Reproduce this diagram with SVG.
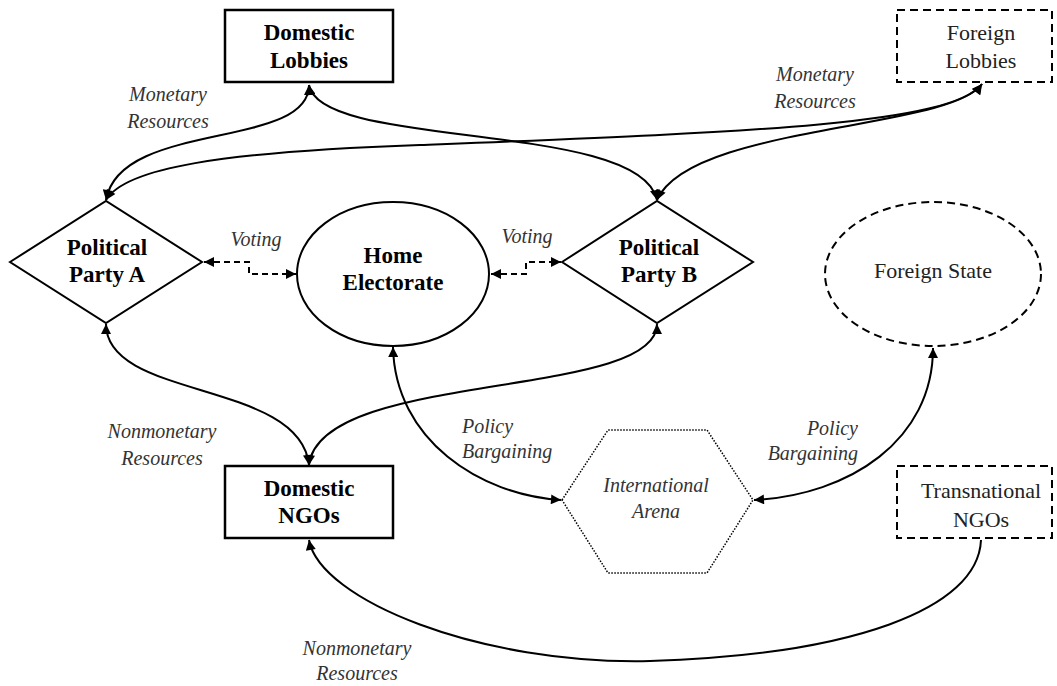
<svg xmlns="http://www.w3.org/2000/svg" width="1057" height="686" viewBox="0 0 1057 686">
<style>
.bg{fill:#fff}
.solid{fill:#fff;stroke:#000;stroke-width:2.5}
.dia{fill:#fff;stroke:#000;stroke-width:2}
.dash{fill:#fff;stroke:#000;stroke-width:2;stroke-dasharray:8 5}
.dot{fill:#fff;stroke:#000;stroke-width:1.5;stroke-dasharray:1.5 1.5}
.b{font-weight:bold;font-size:23px;fill:#000;text-anchor:middle}
.r{font-size:22px;fill:#222;text-anchor:middle}
.i{font-style:italic;font-size:20px;fill:#333;text-anchor:middle}
.c{fill:none;stroke:#000;stroke-width:2}
.v{fill:none;stroke:#000;stroke-width:2;stroke-dasharray:6 4}
</style>
<defs>
<marker id="ah" viewBox="0 0 10 10" refX="10" refY="5" markerWidth="12" markerHeight="10" markerUnits="userSpaceOnUse" orient="auto-start-reverse"><path d="M0,0 L10,5 L0,10 z" fill="#000"/></marker>
</defs>
<rect class="bg" x="0" y="0" width="1057" height="686"/>

<g id="connectors">
<path class="c" d="M309,85 C309,150 120,120 106,200" marker-start="url(#ah)" marker-end="url(#ah)"/>
<path class="c" d="M309,85 C320,150 640,120 657,200" marker-start="url(#ah)" marker-end="url(#ah)"/>
<path class="c" d="M982,84 C950,125 750,132 420,145 C220,152 125,168 106,200" marker-start="url(#ah)" marker-end="url(#ah)"/>
<path class="c" d="M982,84 C950,130 690,125 657,200" marker-start="url(#ah)" marker-end="url(#ah)"/>
<path class="c" d="M106,324 C106,400 300,380 309,465" marker-start="url(#ah)" marker-end="url(#ah)"/>
<path class="c" d="M657,324 C657,400 320,370 309,465" marker-start="url(#ah)" marker-end="url(#ah)"/>
<path class="c" d="M393,347 C395,440 480,495 561,500" marker-start="url(#ah)" marker-end="url(#ah)"/>
<path class="c" d="M933,348 C933,440 850,495 754,500" marker-start="url(#ah)" marker-end="url(#ah)"/>
<path class="c" d="M981,540 C978,610 850,655 650,661 C480,665 320,600 309,540" marker-end="url(#ah)"/>
<path class="v" d="M204,262 H249 V274 H296" marker-start="url(#ah)" marker-end="url(#ah)"/>
<path class="v" d="M491,274 H526 V262 H561" marker-start="url(#ah)" marker-end="url(#ah)"/>
</g>

<g font-family="Liberation Serif, DejaVu Serif, serif">
<g id="domestic-lobbies">
<rect class="solid" x="225" y="10" width="168" height="72"/>
<text class="b" x="309" y="40">Domestic</text>
<text class="b" x="309" y="68">Lobbies</text>
</g>

<g id="foreign-lobbies">
<rect class="dash" x="897" y="10" width="155" height="72"/>
<text class="r" x="981" y="40">Foreign</text>
<text class="r" x="981" y="68">Lobbies</text>
</g>

<g id="party-a">
<polygon class="dia" points="10,262 106,201 202,262 106,323"/>
<text class="b" x="107" y="255">Political</text>
<text class="b" x="107" y="282">Party A</text>
</g>

<g id="home-electorate">
<ellipse class="dia" cx="393" cy="274" rx="96" ry="72"/>
<text class="b" x="393" y="263">Home</text>
<text class="b" x="393" y="290">Electorate</text>
</g>

<g id="party-b">
<polygon class="dia" points="562,262 657,201 753,262 657,323"/>
<text class="b" x="659" y="255">Political</text>
<text class="b" x="659" y="282">Party B</text>
</g>

<g id="foreign-state">
<ellipse class="dash" cx="933" cy="274" rx="108" ry="72"/>
<text class="r" x="933" y="278">Foreign State</text>
</g>

<g id="domestic-ngos">
<rect class="solid" x="225" y="466" width="168" height="72"/>
<text class="b" x="309" y="496">Domestic</text>
<text class="b" x="309" y="523">NGOs</text>
</g>

<g id="international-arena">
<polygon class="dot" points="562,500 608,430 707,430 753,500 707,573 608,573"/>
<text class="i" x="656" y="492">International</text>
<text class="i" x="656" y="518">Arena</text>
</g>

<g id="transnational-ngos">
<rect class="dash" x="897" y="466" width="155" height="72"/>
<text class="r" x="981" y="498">Transnational</text>
<text class="r" x="981" y="527">NGOs</text>
</g>

<g id="labels">
<text class="i" x="168" y="101">Monetary</text>
<text class="i" x="168" y="128">Resources</text>
<text class="i" x="815" y="81">Monetary</text>
<text class="i" x="815" y="108">Resources</text>
<text class="i" x="256" y="246">Voting</text>
<text class="i" x="527" y="243">Voting</text>
<text class="i" x="162" y="438">Nonmonetary</text>
<text class="i" x="162" y="465">Resources</text>
<text class="i" x="462" y="433" text-anchor="start" style="text-anchor:start">Policy</text>
<text class="i" x="462" y="458" style="text-anchor:start">Bargaining</text>
<text class="i" x="858" y="435" style="text-anchor:end">Policy</text>
<text class="i" x="858" y="460" style="text-anchor:end">Bargaining</text>
<text class="i" x="357" y="655">Nonmonetary</text>
<text class="i" x="357" y="680">Resources</text>
</g>
</g>
</svg>
